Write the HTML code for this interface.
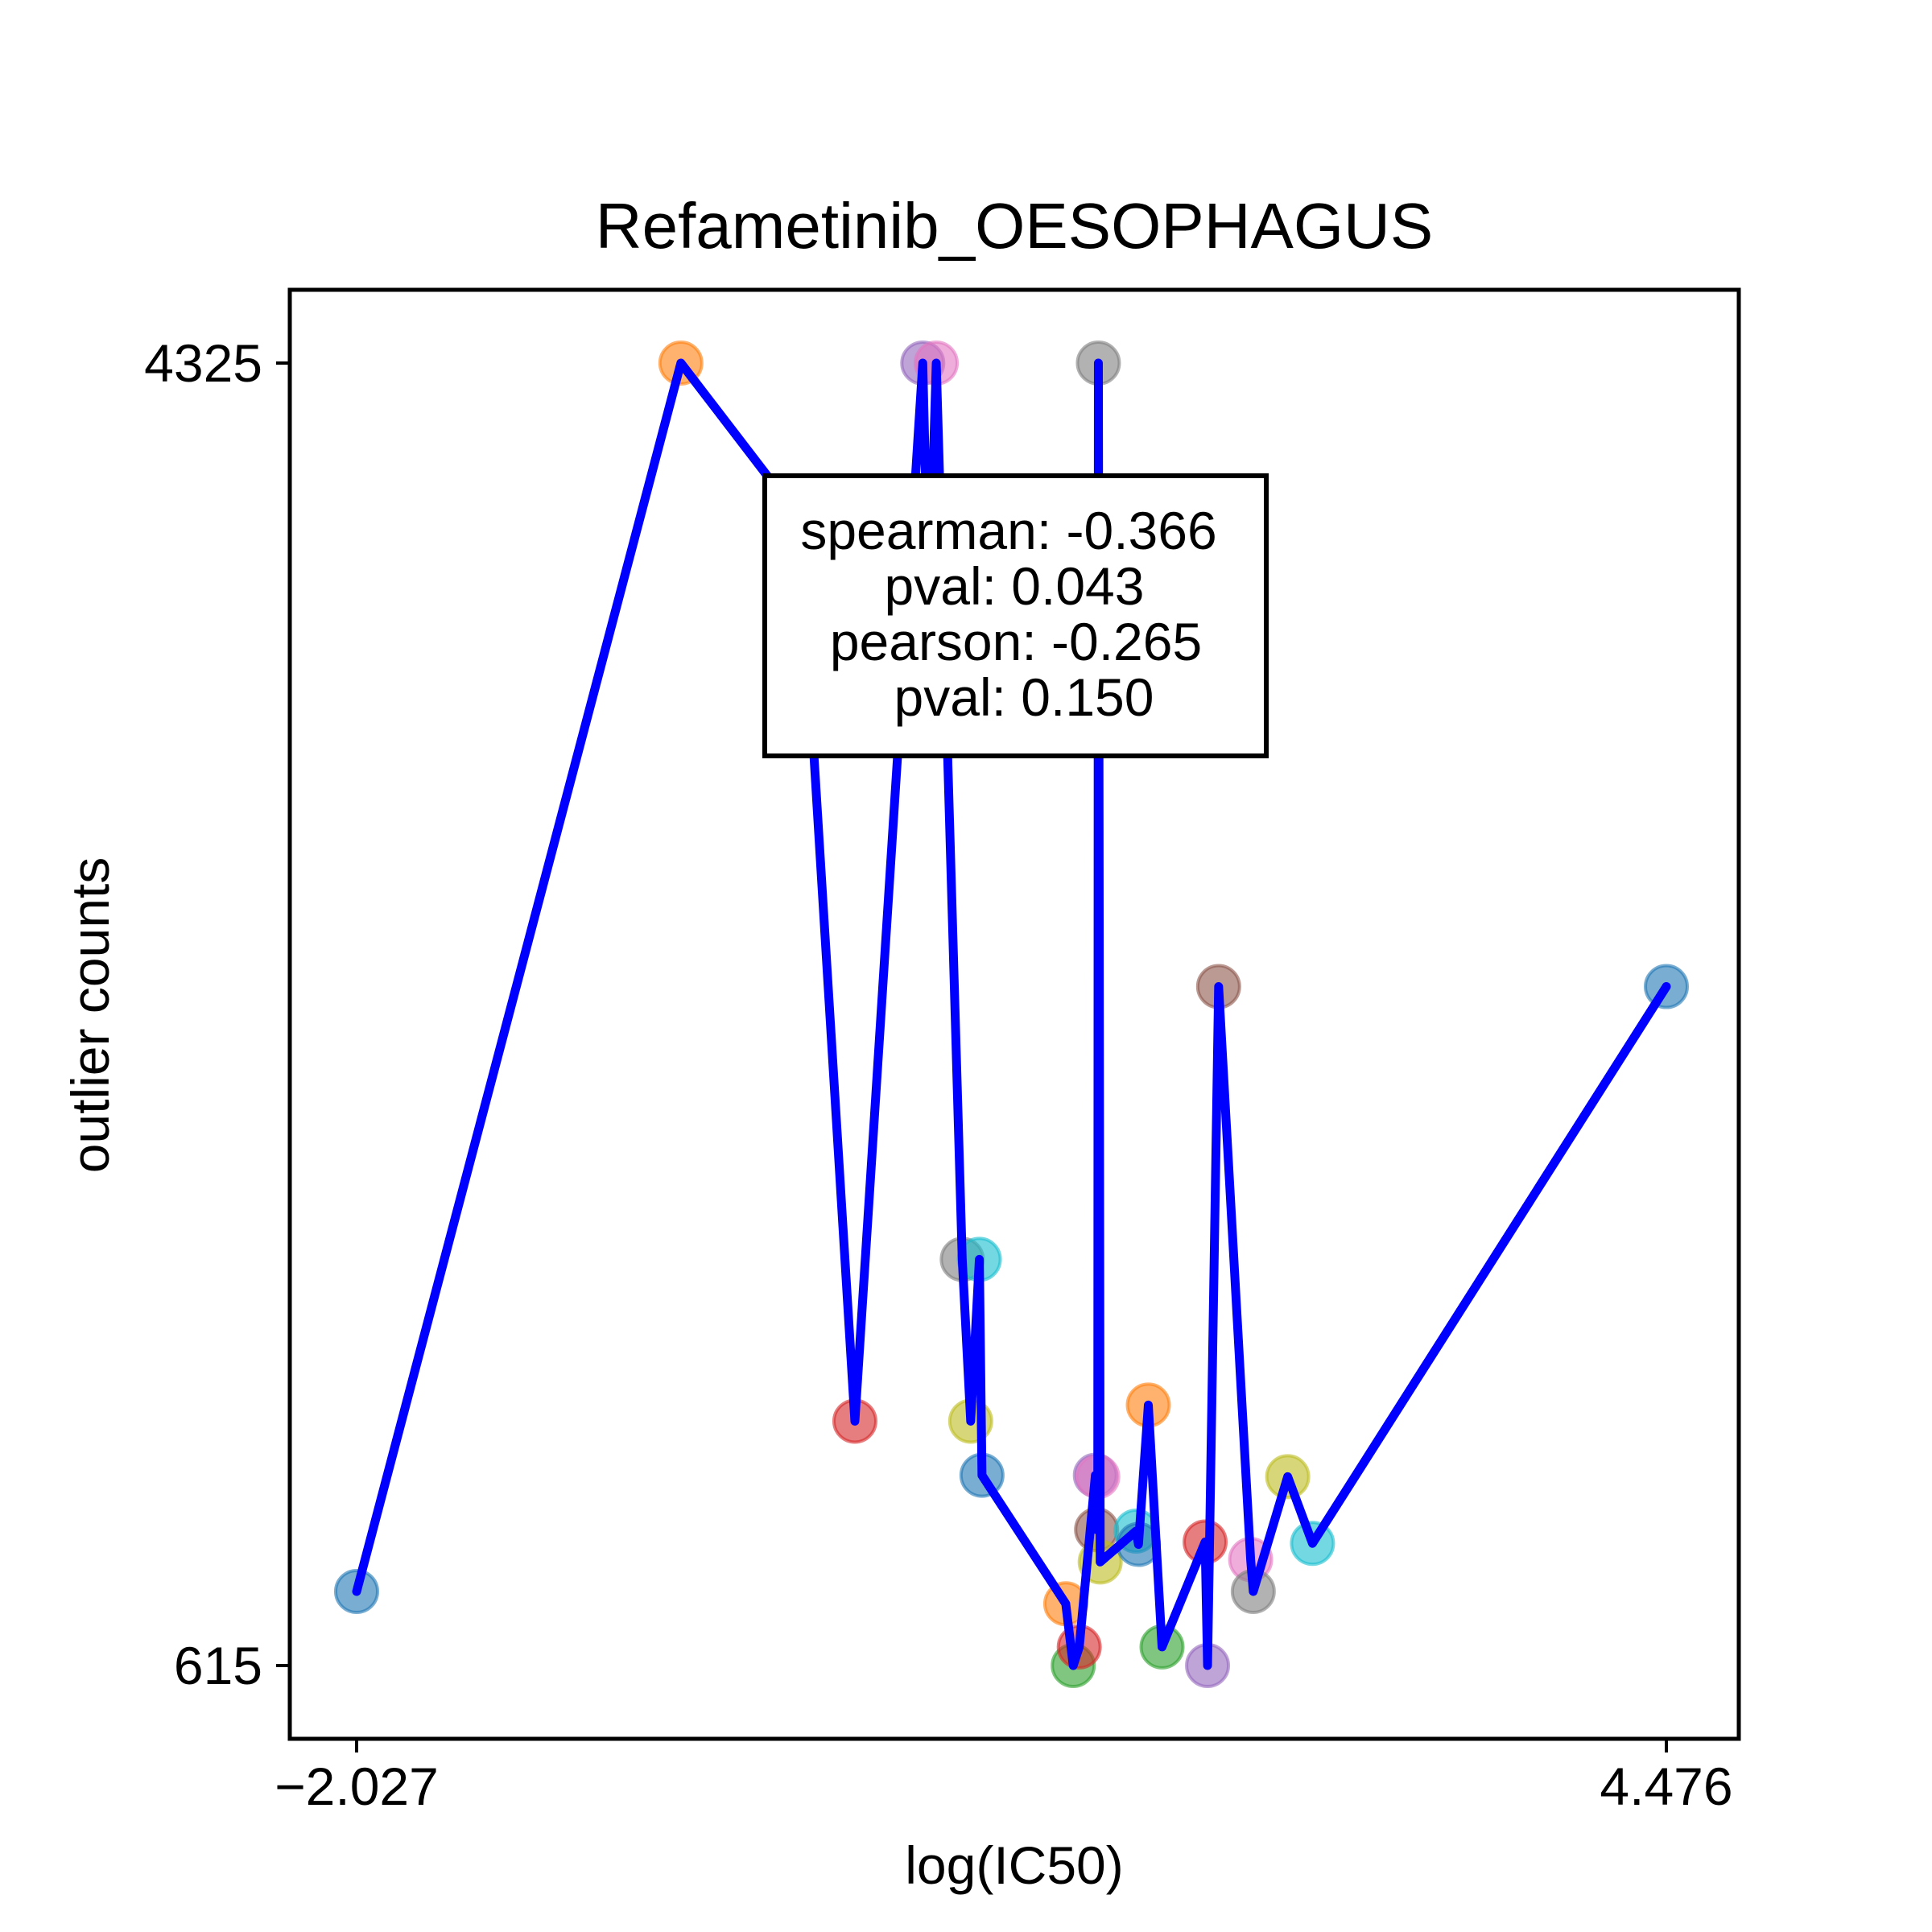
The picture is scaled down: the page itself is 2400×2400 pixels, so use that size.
<!DOCTYPE html>
<html><head><meta charset="utf-8"><style>
html,body{margin:0;padding:0;background:#fff}
svg{display:block;font-family:"Liberation Sans",Arial,sans-serif}
</style></head><body>
<svg id="chart" width="2400" height="2400" viewBox="0 0 2400 2400" xmlns="http://www.w3.org/2000/svg">
<rect x="0" y="0" width="2400" height="2400" fill="#fff"/>
<text x="1260" y="308" font-size="80" text-anchor="middle">Refametinib_OESOPHAGUS</text>
<g id="plot"></g>
<rect x="360" y="360" width="1800" height="1800" fill="none" stroke="#000" stroke-width="5"/>
<g id="axes"></g>
<text x="1260" y="2340" font-size="66" text-anchor="middle">log(IC50)</text>
<text x="135" y="1261" font-size="66" text-anchor="middle" transform="rotate(-90 135 1261)">outlier counts</text>
<g>
<rect x="950" y="591" width="623" height="348" fill="#fff" stroke="#000" stroke-width="6"/>
<text x="1253" y="682" font-size="66" text-anchor="middle">spearman: -0.366</text>
<text x="1260" y="751" font-size="66" text-anchor="middle">pval: 0.043</text>
<text x="1262" y="820" font-size="66" text-anchor="middle">pearson: -0.265</text>
<text x="1272" y="889" font-size="66" text-anchor="middle">pval: 0.150</text>
</g>
</svg>
<script>
const xValues = [-2.027,-0.417,0.171,0.447,0.784,0.814,0.851,0.980,1.022,1.065,1.078,1.494,1.531,1.561,1.641,1.647,1.653,1.656,1.665,1.843,1.855,1.904,1.972,2.186,2.198,2.253,2.412,2.425,2.596,2.719,4.476];
const yValues = [826,4325,3885,1311,4325,3604,4325,1772,1311,1772,1157,791,615,668,1157,1002,1153,4325,910,998,960,1357,668,967,615,2549,917,826,1153,963,2549];
const colors = ["#1f77b4","#ff7f0e","#2ca02c","#d62728","#9467bd","#8c564b","#e377c2","#7f7f7f","#bcbd22","#17becf"];
const xTicks = [-2.027, 4.476];
const xTickLabels = ["\u22122.027", "4.476"];
const yTicks = [615, 4325];
const yTickLabels = ["615", "4325"];

const NS = "http://www.w3.org/2000/svg";
function sx(v){ return 443 + (v + 2.027) / 6.503 * 1627; }
function sy(v){ return 2069 - (v - 615) / 3710 * 1618; }
const plot = document.getElementById('plot');
const axes = document.getElementById('axes');

for (let i = 0; i < xValues.length; i++) {
  const c = document.createElementNS(NS, 'circle');
  c.setAttribute('cx', sx(xValues[i]));
  c.setAttribute('cy', sy(yValues[i]));
  c.setAttribute('r', 26);
  const col = colors[i % colors.length];
  c.setAttribute('fill', col);
  c.setAttribute('fill-opacity', 0.6);
  c.setAttribute('stroke', col);
  c.setAttribute('stroke-opacity', 0.6);
  c.setAttribute('stroke-width', 4);
  
  
  plot.appendChild(c);
}
const pts = xValues.map((x, i) => sx(x) + ',' + sy(yValues[i])).join(' ');
const line = document.createElementNS(NS, 'polyline');
line.setAttribute('points', pts);
line.setAttribute('fill', 'none');
line.setAttribute('stroke', '#0000ff');
line.setAttribute('stroke-width', 11);
line.setAttribute('stroke-linejoin', 'round');
line.setAttribute('stroke-linecap', 'round');


plot.appendChild(line);

xTicks.forEach((v, i) => {
  const t = document.createElementNS(NS, 'line');
  t.setAttribute('x1', sx(v)); t.setAttribute('x2', sx(v));
  t.setAttribute('y1', 2160); t.setAttribute('y2', 2177);
  t.setAttribute('stroke', '#000'); t.setAttribute('stroke-width', 4);
  
  
  axes.appendChild(t);
  const l = document.createElementNS(NS, 'text');
  l.setAttribute('x', sx(v)); l.setAttribute('y', 2242);
  l.setAttribute('font-size', 66); l.setAttribute('text-anchor', 'middle');
  l.textContent = xTickLabels[i];
  
  
  axes.appendChild(l);
});
yTicks.forEach((v, i) => {
  const t = document.createElementNS(NS, 'line');
  t.setAttribute('x1', 343); t.setAttribute('x2', 360);
  t.setAttribute('y1', sy(v)); t.setAttribute('y2', sy(v));
  t.setAttribute('stroke', '#000'); t.setAttribute('stroke-width', 4);
  
  
  axes.appendChild(t);
  const l = document.createElementNS(NS, 'text');
  l.setAttribute('x', 326); l.setAttribute('y', sy(v) + 23);
  l.setAttribute('font-size', 66); l.setAttribute('text-anchor', 'end');
  l.textContent = yTickLabels[i];
  
  
  axes.appendChild(l);
});
</script>
</body></html>
